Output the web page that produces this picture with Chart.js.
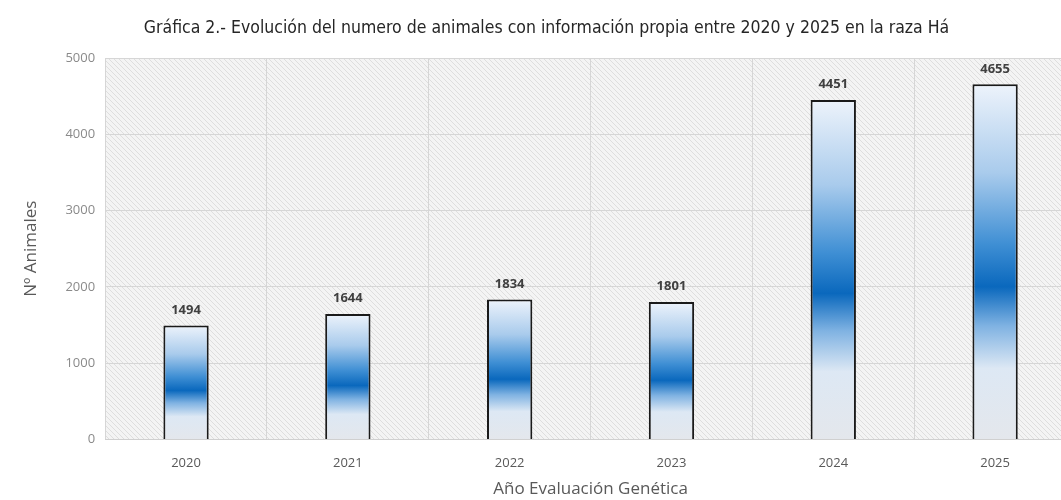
<!DOCTYPE html>
<html>
<head>
<meta charset="utf-8">
<script src="https://cdn.jsdelivr.net/npm/chart.js@4.4.1/dist/chart.umd.min.js"></script>
<style>
  html, body { margin: 0; padding: 0; background: #fff; overflow: hidden; }
  #wrap { width: 1080px; height: 500px; }
</style>
</head>
<body>
<div id="wrap"><canvas id="chart"></canvas></div>
<script>
const years = ['2020', '2021', '2022', '2023', '2024', '2025']
const animals = [1494, 1644, 1834, 1801, 4451, 4655]
const yTicks = [0, 1000, 2000, 3000, 4000, 5000]

let ctx = document.getElementById('chart')

// hatched background of the plot area
const makePattern = () => {
    let c = document.createElement('canvas')
    c.width = 5
    c.height = 5
    let p = c.getContext('2d')
    p.fillStyle = '#f4f4f4'
    p.fillRect(0, 0, 5, 5)
    p.strokeStyle = '#dedede'
    p.lineWidth = 1
    p.beginPath()
    p.moveTo(-1, -1)
    p.lineTo(6, 6)
    p.stroke()
    return p.createPattern(c, 'repeat')
}

const hatchPlugin = {
    id: 'hatch',
    beforeDraw(chart) {
        let a = chart.chartArea
        let g = chart.ctx
        g.save()
        g.fillStyle = makePattern()
        g.fillRect(a.left, a.top, a.right - a.left, a.bottom - a.top)
        g.restore()
    }
}

const labelPlugin = {
    id: 'valueLabels',
    afterDatasetsDraw(chart) {
        let g = chart.ctx
        let meta = chart.getDatasetMeta(0)
        g.save()
        g.font = 'bold 13px "Open Sans", sans-serif'
        g.fillStyle = '#404040'
        g.textAlign = 'center'
        g.textBaseline = 'bottom'
        meta.data.forEach(function (bar, i) {
            g.fillText(animals[i], bar.x, bar.y - 9)
        })
        g.restore()
    }
}

const barFill = (context) => {
    let chart = context.chart
    if (!chart.chartArea) return '#0b6cc0'
    let y = chart.scales.y
    let top = y.getPixelForValue(context.raw)
    let bottom = y.getPixelForValue(0)
    let grad = chart.ctx.createLinearGradient(0, top, 0, bottom)
    grad.addColorStop(0, '#edf3fb')
    grad.addColorStop(0.25, '#a9cbec')
    grad.addColorStop(0.45, '#3f8fd4')
    grad.addColorStop(0.57, '#0a68bd')
    grad.addColorStop(0.68, '#7fb2e2')
    grad.addColorStop(0.8, '#dde8f4')
    grad.addColorStop(1, '#e4e7ec')
    return grad
}

let myChart = new Chart(ctx, {
    type: 'bar',
    data: {
        labels: years,
        datasets: [{
            label: 'Nº Animales',
            data: animals,
            backgroundColor: barFill,
            borderColor: '#1a1a1a',
            borderWidth: 2,
            borderSkipped: 'bottom',
            categoryPercentage: 1,
            barPercentage: 0.28
        }]
    },
    options: {
        responsive: true,
        maintainAspectRatio: false,
        animation: false,
        layout: {
            padding: { left: 17, right: 4, top: 0, bottom: 2 }
        },
        plugins: {
            legend: { display: false },
            tooltip: { enabled: false },
            title: {
                display: true,
                text: 'Gráfica 2.- Evolución del numero de animales con información propia entre 2020 y 2025 en la raza Há',
                color: '#262626',
                font: { family: '"DejaVu Sans Condensed", "Liberation Sans Narrow", sans-serif', size: 17.5, weight: 'normal' },
                padding: { top: 18, bottom: 19 }
            }
        },
        scales: {
            x: {
                grid: { color: '#d6d6d6', offset: true, drawTicks: false },
                border: { color: '#d0d0d0' },
                ticks: { color: '#595959', font: { family: '"Open Sans", sans-serif', size: 13 }, padding: 16 },
                title: {
                    display: true,
                    text: 'Año Evaluación Genética',
                    color: '#595959',
                    font: { family: '"Open Sans", sans-serif', size: 17, lineHeight: 1 },
                    padding: { top: -6, bottom: 0 }
                }
            },
            y: {
                min: 0,
                max: 5000,
                afterBuildTicks: (axis) => { axis.ticks = yTicks.map(v => ({ value: v })) },
                grid: { color: '#d6d6d6', drawTicks: false },
                border: { display: false },
                ticks: {
                    color: '#8a8a8a',
                    font: { family: '"Open Sans", sans-serif', size: 13 },
                    padding: 10,
                    callback: (v) => String(v)
                },
                title: {
                    display: true,
                    text: 'Nº Animales',
                    color: '#595959',
                    font: { family: '"Open Sans", sans-serif', size: 17 },
                    padding: { bottom: 14 }
                }
            }
        }
    },
    plugins: [hatchPlugin, labelPlugin]
})
</script>
</body>
</html>
